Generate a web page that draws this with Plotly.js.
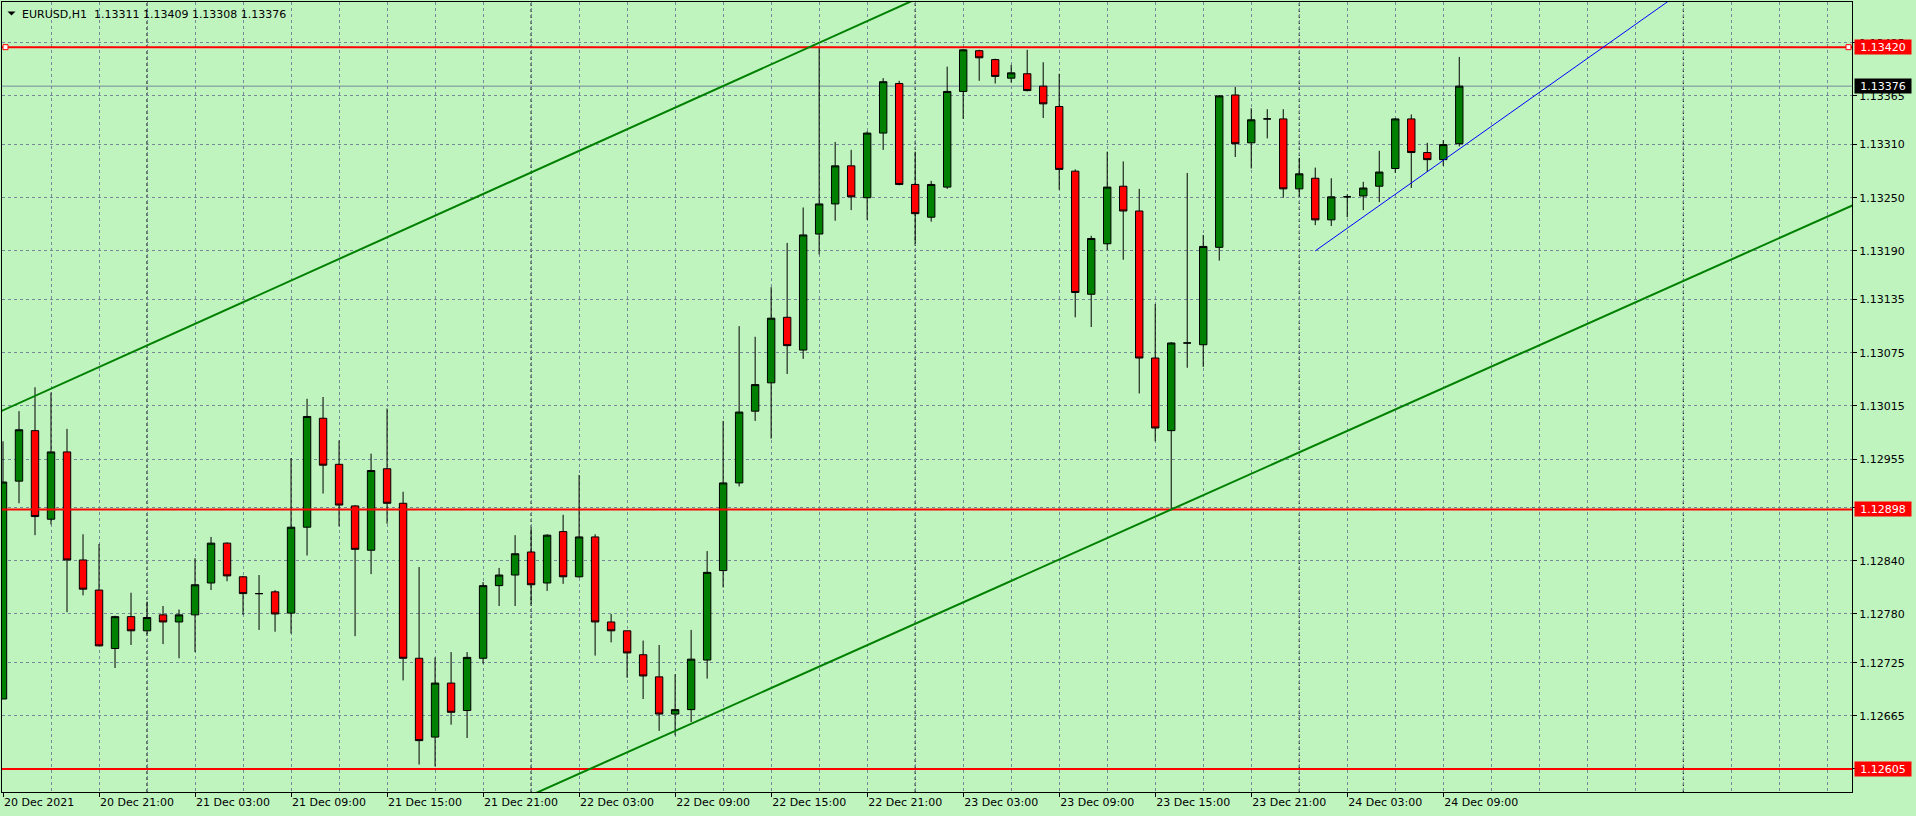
<!DOCTYPE html>
<html><head><meta charset="utf-8">
<script src="https://cdn.plot.ly/plotly-3.0.1.min.js"></script>
<style>html,body{margin:0;padding:0;background:#BFF4BF;} #chart{width:1916px;height:816px;}</style>
</head><body><div id="chart"></div>
<script>
// ---------- data ----------
const symbolTitle = "EURUSD,H1";
const firstBarHour = 15; // 20 Dec 2021 15:00, hourly bars
const openP  = [1.12684,1.12930,1.12987,1.12887,1.12963,1.12841,1.12807,1.12741,1.12777,1.12761,
                1.12779,1.12771,1.12779,1.12815,1.12860,1.12822,1.12803,1.12805,1.12781,1.12878,
                1.13001,1.12949,1.12902,1.12852,1.12944,1.12905,1.12730,1.12641,1.12702,1.12671,
                1.12730,1.12812,1.12824,1.12850,1.12815,1.12873,1.12822,1.12867,1.12771,1.12761,
                1.12734,1.12709,1.12667,1.12672,1.12728,1.12829,1.12928,1.13009,1.13041,1.13115,
                1.13078,1.13209,1.13243,1.13286,1.13250,1.13323,1.13379,1.13265,1.13228,1.13262,
                1.13370,1.13416,1.13406,1.13385,1.13390,1.13376,1.13353,1.13280,1.13141,1.13198,
                1.13263,1.13235,1.13069,1.12987,1.13086,1.13084,1.13194,1.13366,1.13312,1.13339,
                1.13339,1.13260,1.13272,1.13225,1.13251,1.13252,1.13263,1.13283,1.13339,1.13301,
                1.13293,1.13311];
const highP  = [1.12975,1.13009,1.13036,1.13030,1.12989,1.12870,1.12859,1.12778,1.12804,1.12794,
                1.12789,1.12785,1.12843,1.12867,1.12861,1.12823,1.12824,1.12807,1.12956,1.13023,
                1.13025,1.12976,1.12903,1.12961,1.13012,1.12918,1.12833,1.12731,1.12737,1.12737,
                1.12816,1.12832,1.12869,1.12877,1.12870,1.12892,1.12937,1.12870,1.12780,1.12761,
                1.12750,1.12745,1.12712,1.12762,1.12851,1.12998,1.13105,1.13093,1.13149,1.13199,
                1.13239,1.13420,1.13313,1.13304,1.13325,1.13385,1.13382,1.13302,1.13269,1.13398,
                1.13418,1.13417,1.13407,1.13400,1.13417,1.13403,1.13390,1.13282,1.13207,1.13302,
                1.13291,1.13260,1.13130,1.13087,1.13278,1.13208,1.13366,1.13375,1.13351,1.13350,
                1.13350,1.13295,1.13284,1.13272,1.13254,1.13268,1.13303,1.13340,1.13344,1.13312,
                1.13315,1.13409];
const lowP   = [1.12684,1.12905,1.12869,1.12881,1.12782,1.12801,1.12744,1.12719,1.12745,1.12757,
                1.12746,1.12730,1.12737,1.12807,1.12817,1.12779,1.12762,1.12760,1.12758,1.12846,
                1.12916,1.12879,1.12755,1.12825,1.12882,1.12705,1.12610,1.12608,1.12655,1.12640,
                1.12724,1.12789,1.12789,1.12791,1.12806,1.12814,1.12821,1.12733,1.12748,1.12708,
                1.12684,1.12648,1.12643,1.12658,1.12707,1.12810,1.12924,1.12998,1.12978,1.13051,
                1.13068,1.13186,1.13224,1.13236,1.13225,1.13304,1.13264,1.13198,1.13223,1.13260,
                1.13339,1.13382,1.13379,1.13380,1.13370,1.13340,1.13259,1.13115,1.13104,1.13191,
                1.13180,1.13029,1.12975,1.12898,1.13058,1.13059,1.13179,1.13296,1.13283,1.13317,
                1.13250,1.13251,1.13219,1.13218,1.13228,1.13236,1.13245,1.13278,1.13261,1.13279,
                1.13286,1.13308];
const closeP = [1.12929,1.12988,1.12890,1.12963,1.12841,1.12808,1.12744,1.12777,1.12761,1.12776,
                1.12771,1.12779,1.12813,1.12860,1.12823,1.12803,1.12803,1.12780,1.12878,1.13003,
                1.12948,1.12903,1.12853,1.12942,1.12905,1.12730,1.12637,1.12702,1.12669,1.12731,
                1.12812,1.12824,1.12848,1.12813,1.12869,1.12822,1.12867,1.12771,1.12761,1.12736,
                1.12710,1.12667,1.12672,1.12729,1.12827,1.12928,1.13008,1.13039,1.13114,1.13083,
                1.13208,1.13243,1.13286,1.13251,1.13323,1.13381,1.13265,1.13232,1.13265,1.13370,
                1.13417,1.13408,1.13387,1.13391,1.13371,1.13356,1.13282,1.13143,1.13204,1.13262,
                1.13235,1.13069,1.12990,1.13086,1.13086,1.13195,1.13365,1.13311,1.13338,1.13339,
                1.13260,1.13277,1.13225,1.13251,1.13251,1.13261,1.13279,1.13339,1.13301,1.13293,
                1.13310,1.13376];

const xTickBars   = [0,6,12,18,24,30,36,42,48,54,60,66,72,78,84,90];
const xTickLabels = ["20 Dec 2021","20 Dec 21:00","21 Dec 03:00","21 Dec 09:00","21 Dec 15:00",
                     "21 Dec 21:00","22 Dec 03:00","22 Dec 09:00","22 Dec 15:00","22 Dec 21:00",
                     "23 Dec 03:00","23 Dec 09:00","23 Dec 15:00","23 Dec 21:00","24 Dec 03:00",
                     "24 Dec 09:00"];
const yTickVals = [1.13425,1.13365,1.13310,1.13250,1.13190,1.13135,1.13075,1.13015,
                   1.12955,1.12900,1.12840,1.12780,1.12725,1.12665,1.12605];

const levelPrices = [1.13420, 1.12898, 1.12605];
const bidPrice = 1.13376;
const upperLineBars = [0, 51],  upperLinePrices = [1.13010, 1.13425];
const lowerLineBars = [42, 73], lowerLinePrices = [1.12648, 1.12898];
const blueLineBars  = [82, 91], blueLinePrices  = [1.13190, 1.13305];

// ---------- build ----------
const bars = openP.map((_, i) => i);
const xRange = [-0.0625, 115.54];
const yRange = [1.12579, 1.13471];
const bg = '#BFF4BF';
const gridColor = '#778899';
const fontFam = 'DejaVu Sans, Verdana, sans-serif';

const candle = {
  type: 'candlestick', x: bars, open: openP, high: highP, low: lowP, close: closeP,
  increasing: {line: {color: '#000000', width: 1}, fillcolor: '#008000'},
  decreasing: {line: {color: '#000000', width: 1}, fillcolor: '#FF0000'},
  whiskerwidth: 0, hoverinfo: 'skip', showlegend: false
};

function ray(bx, py, extendLeft) {
  const slope = (py[1] - py[0]) / (bx[1] - bx[0]);
  const xa = extendLeft ? xRange[0] - 5 : bx[0];
  const xb = xRange[1] + 10;
  return {x0: xa, y0: py[0] + slope * (xa - bx[0]), x1: xb, y1: py[0] + slope * (xb - bx[0])};
}

const shapes = [];
// period separators (midnights)
for (let h = 0; h <= xRange[1]; h++) {
  if ((firstBarHour + h) % 24 === 0) {
    shapes.push({type: 'line', xref: 'x', yref: 'paper', x0: h, x1: h, y0: 0, y1: 1,
      line: {color: '#000000', width: 1, dash: '3px,3px'}, layer: 'between'});
  }
}
// bid line
shapes.push({type: 'line', xref: 'paper', yref: 'y', x0: 0, x1: 1, y0: bidPrice, y1: bidPrice,
  line: {color: gridColor, width: 1}, layer: 'between'});
// horizontal levels
levelPrices.forEach(p => shapes.push({type: 'line', xref: 'paper', yref: 'y', x0: 0, x1: 1, y0: p, y1: p,
  line: {color: '#FF0000', width: 2}, layer: 'above'}));
// selection squares on the first level
[[0, 1, 6], [1, -6, -1]].forEach(([anc, a, b]) => shapes.push({type: 'rect', xref: 'paper', yref: 'y',
  xsizemode: 'pixel', xanchor: anc, x0: a, x1: b, ysizemode: 'pixel', yanchor: levelPrices[0], y0: -2.5, y1: 2.5,
  fillcolor: '#FFFFFF', line: {color: '#FF0000', width: 1}, layer: 'above'}));
// channel + blue trend line
const up = ray(upperLineBars, upperLinePrices, true);
const lo = ray(lowerLineBars, lowerLinePrices, true);
const bl = ray(blueLineBars, blueLinePrices, false);
shapes.push(Object.assign({type: 'line', xref: 'x', yref: 'y', line: {color: '#008000', width: 2}, layer: 'above'}, up));
shapes.push(Object.assign({type: 'line', xref: 'x', yref: 'y', line: {color: '#008000', width: 2}, layer: 'above'}, lo));
shapes.push(Object.assign({type: 'line', xref: 'x', yref: 'y', line: {color: '#0000FF', width: 1}, layer: 'above'}, bl));
// header triangle
shapes.push({type: 'path', xref: 'paper', yref: 'paper', xsizemode: 'pixel', ysizemode: 'pixel',
  xanchor: 0, yanchor: 1, path: 'M5.5,-9.5 L13.5,-9.5 L9.5,-13.5 Z', fillcolor: '#000000', line: {width: 0}});

const last = openP.length - 1;
const header = symbolTitle + '\u00a0 ' + [openP[last], highP[last], lowP[last], closeP[last]].map(v => v.toFixed(5)).join(' ');

const annotations = [
  {xref: 'paper', yref: 'paper', x: 0, y: 1, xanchor: 'left', yanchor: 'top', xshift: 18, yshift: -4,
   text: header, showarrow: false, font: {family: fontFam, size: 11, color: '#000000'}}
];
function priceBox(p, color) {
  return {xref: 'paper', yref: 'y', x: 1, y: p, xanchor: 'left', yanchor: 'middle', xshift: 2,
    text: p.toFixed(5), showarrow: false, bgcolor: color, width: 54, height: 12, borderpad: 1,
    font: {family: fontFam, size: 11, color: '#FFFFFF'}};
}
levelPrices.forEach(p => annotations.push(priceBox(p, '#FF0000')));
annotations.push(priceBox(bidPrice, '#000000'));

const layout = {
  width: 1916, height: 816,
  margin: {l: 2, r: 64, t: 2, b: 24},
  paper_bgcolor: bg, plot_bgcolor: bg,
  showlegend: false, dragmode: false, boxgap: 0.34,
  xaxis: {
    type: 'linear', range: xRange, fixedrange: true, rangeslider: {visible: false},
    tickmode: 'array', tickvals: xTickBars, ticktext: xTickLabels,
    ticks: 'outside', ticklen: 4, tickwidth: 1, tickcolor: '#000000',
    ticklabelposition: 'outside right',
    tickfont: {family: fontFam, size: 11, color: '#000000'},
    showgrid: true, gridcolor: gridColor, gridwidth: 1, griddash: '3px,3px',
    minor: {tickmode: 'linear', tick0: 0, dtick: 3, showgrid: true, gridcolor: gridColor, gridwidth: 1, griddash: '3px,3px', ticks: ''},
    showline: true, mirror: true, linecolor: '#000000', linewidth: 1, zeroline: false
  },
  yaxis: {
    side: 'right', range: yRange, fixedrange: true,
    tickmode: 'array', tickvals: yTickVals, ticktext: yTickVals.map(v => v.toFixed(5)),
    ticks: 'outside', ticklen: 4, tickwidth: 1, tickcolor: '#000000',
    tickfont: {family: fontFam, size: 11, color: '#000000'},
    showgrid: true, gridcolor: gridColor, gridwidth: 1, griddash: '3px,3px',
    showline: true, mirror: true, linecolor: '#000000', linewidth: 1, zeroline: false
  },
  shapes: shapes,
  annotations: annotations
};

Plotly.newPlot('chart', [candle], layout, {staticPlot: true, displayModeBar: false});
</script>
</body></html>
